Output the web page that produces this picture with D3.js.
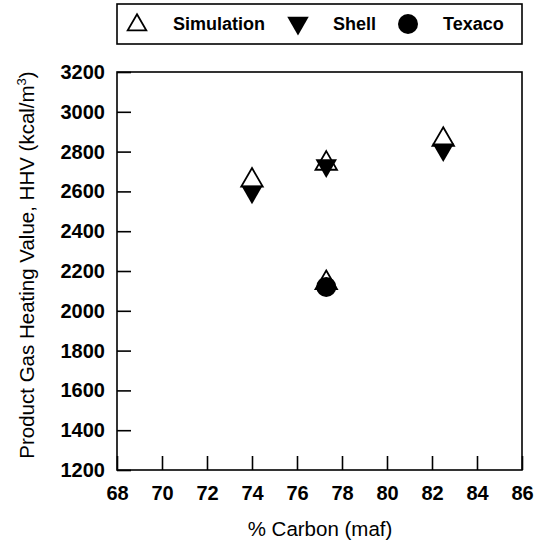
<!DOCTYPE html>
<html lang="en">
<head>
<meta charset="UTF-8">
<title>Product Gas Heating Value</title>
<script src="https://cdn.jsdelivr.net/npm/d3@7"></script>
<style>
  body { margin: 0; background: #fff; }
  svg { display: block; font-family: "Liberation Sans", Arial, sans-serif; }
</style>
</head>
<body>
<svg id="chart" width="542" height="548"></svg>
<script>
// data
const simCarbon = [74.0, 77.3, 82.5];
const simulation = [2655, 2140, 2860];   // second one sits behind the Texaco dot
const simStarCarbon = [77.3];
const simStar = [2740];                  // simulation point at 77.3 overlapping Shell
const shellCarbon = [74.0, 77.3, 82.5];
const shell = [2598, 2730, 2810];
const texacoCarbon = [77.3];
const texaco = [2120];
const xTicks = [68, 70, 72, 74, 76, 78, 80, 82, 84, 86];
const yTicks = [1200, 1400, 1600, 1800, 2000, 2200, 2400, 2600, 2800, 3000, 3200];

const svg = d3.select("#chart");
const plotL = 117, plotR = 522, plotT = 72, plotB = 470;

const x = d3.scaleLinear().domain([68, 86]).range([plotL, plotR]);
const y = d3.scaleLinear().domain([1200, 3200]).range([plotB, plotT]);

const tri = d3.symbol().type(d3.symbolTriangle).size(200);
const triLegend = d3.symbol().type(d3.symbolTriangle).size(150);

// frame
svg.append("rect")
  .attr("x", plotL).attr("y", plotT)
  .attr("width", plotR - plotL).attr("height", plotB - plotT)
  .attr("fill", "none").attr("stroke", "#000").attr("stroke-width", 1.6);

// axes, ticks drawn inward
const xAxis = svg.append("g").attr("transform", `translate(0,${plotB})`)
  .call(d3.axisBottom(x).tickValues(xTicks).tickSize(-14).tickFormat(d3.format("d")));
const yAxis = svg.append("g").attr("transform", `translate(${plotL},0)`)
  .call(d3.axisLeft(y).tickValues(yTicks).tickSize(-14).tickFormat(d3.format("d")));

[xAxis, yAxis].forEach(a => {
  a.select(".domain").remove();
  a.selectAll(".tick line").attr("stroke", "#000").attr("stroke-width", 1.6);
  a.selectAll(".tick text")
    .attr("fill", "#000")
    .style("font-size", "20px")
    .style("font-weight", "bold")
    .style("font-family", "'Liberation Sans', Arial, sans-serif");
});
xAxis.selectAll(".tick text").attr("y", 23).attr("dy", "0.35em");
yAxis.selectAll(".tick text").attr("x", -12);

// axis titles
svg.append("text")
  .attr("x", 320).attr("y", 536)
  .attr("text-anchor", "middle")
  .style("font-size", "20.5px")
  .text("% Carbon (maf)");

const yt = svg.append("text")
  .attr("transform", "translate(34,265) rotate(-90)")
  .attr("text-anchor", "middle")
  .style("font-size", "20.5px");
yt.append("tspan").text("Product Gas Heating Value, HHV (kcal/m");
yt.append("tspan").attr("dy", "-8").style("font-size", "13px").text("3");
yt.append("tspan").attr("dy", "8").text(")");

// simulation (open up triangles)
const simPts = simCarbon.map((c, i) => [c, simulation[i]])
  .concat(simStarCarbon.map((c, i) => [c, simStar[i]]));
svg.append("g").selectAll("path")
  .data(simPts)
  .join("path")
  .attr("d", tri)
  .attr("transform", d => `translate(${x(d[0])},${y(d[1])})`)
  .attr("fill", "none")
  .attr("stroke", "#000")
  .attr("stroke-width", 1.8);

// shell (filled down triangles)
svg.append("g").selectAll("path")
  .data(shellCarbon.map((c, i) => [c, shell[i]]))
  .join("path")
  .attr("d", tri)
  .attr("transform", d => `translate(${x(d[0])},${y(d[1])}) rotate(180)`)
  .attr("fill", "#000");

// texaco (filled circles)
svg.append("g").selectAll("circle")
  .data(texacoCarbon.map((c, i) => [c, texaco[i]]))
  .join("circle")
  .attr("cx", d => x(d[0])).attr("cy", d => y(d[1]))
  .attr("r", 10)
  .attr("fill", "#000");

// legend
const lg = svg.append("g");
lg.append("rect")
  .attr("x", plotL).attr("y", 4)
  .attr("width", plotR - plotL).attr("height", 40)
  .attr("fill", "none").attr("stroke", "#000").attr("stroke-width", 1.6);

const ly = 24;
lg.append("path").attr("d", triLegend)
  .attr("transform", `translate(137,${ly + 1})`)
  .attr("fill", "none").attr("stroke", "#000").attr("stroke-width", 1.8);
lg.append("path").attr("d", tri)
  .attr("transform", `translate(298,${ly - 1}) rotate(180)`)
  .attr("fill", "#000");
lg.append("circle").attr("cx", 408).attr("cy", ly).attr("r", 10).attr("fill", "#000");

const legendText = [["Simulation", 173], ["Shell", 333], ["Texaco", 443]];
lg.selectAll("text.lbl")
  .data(legendText)
  .join("text")
  .attr("class", "lbl")
  .attr("x", d => d[1]).attr("y", ly)
  .attr("dy", "0.35em")
  .style("font-size", "18px")
  .style("font-weight", "bold")
  .text(d => d[0]);
</script>
</body>
</html>
